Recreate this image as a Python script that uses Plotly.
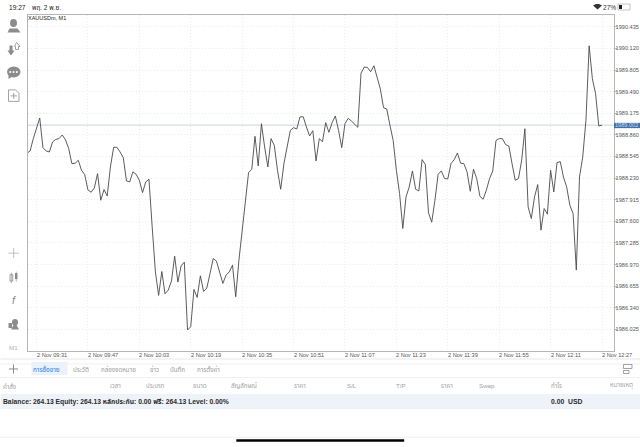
import pandas as pd
import plotly.graph_objects as go

# one close per minute
times = pd.date_range('2023-11-02 09:28', periods=180, freq='min')
closes = [
    1988.591, 1988.625, 1988.805, 1988.950, 1989.106, 1988.674, 1988.625, 1988.611, 1988.756, 1988.795,
    1988.805, 1988.858, 1988.790, 1988.664, 1988.441, 1988.446, 1988.490, 1988.344, 1988.281, 1988.058,
    1988.024, 1988.087, 1988.295, 1987.907, 1988.063, 1987.970, 1988.392, 1988.679, 1988.679, 1988.611,
    1988.528, 1988.189, 1988.174, 1988.320, 1988.286, 1988.198, 1988.019, 1988.174, 1988.213, 1987.519,
    1986.864, 1986.520, 1986.869, 1986.544, 1986.598, 1986.729, 1987.092, 1986.714, 1986.952, 1987.005,
    1986.016, 1986.064, 1986.607, 1986.491, 1986.806, 1986.578, 1986.627, 1986.840, 1987.058, 1987.020,
    1986.840, 1986.695, 1986.816, 1986.864, 1986.961, 1986.501, 1987.034, 1987.471, 1987.956, 1988.310,
    1988.359, 1988.839, 1988.407, 1989.023, 1988.684, 1988.392, 1988.805, 1988.708, 1988.344, 1988.067,
    1988.441, 1988.684, 1988.926, 1988.965, 1988.946, 1989.120, 1989.125, 1988.975, 1988.844, 1988.921,
    1988.480, 1988.805, 1988.761, 1989.038, 1988.897, 1989.038, 1989.135, 1988.926, 1988.674, 1989.023,
    1989.101, 1989.062, 1989.013, 1988.970, 1989.760, 1989.848, 1989.843, 1989.780, 1989.867, 1989.712,
    1989.532, 1989.256, 1989.237, 1988.999, 1988.781, 1988.344, 1988.004, 1987.495, 1987.956, 1988.101,
    1988.334, 1988.067, 1988.043, 1988.499, 1988.431, 1987.723, 1987.587, 1987.907, 1988.286, 1988.334,
    1988.223, 1988.218, 1988.441, 1988.499, 1988.596, 1988.446, 1988.441, 1988.320, 1988.038, 1988.359,
    1988.223, 1987.966, 1987.922, 1988.053, 1988.223, 1988.334, 1988.776, 1988.805, 1988.805, 1988.718,
    1988.698, 1988.441, 1988.198, 1988.223, 1988.490, 1988.950, 1987.810, 1987.641, 1987.956, 1988.135,
    1987.471, 1987.786, 1987.704, 1988.344, 1988.029, 1988.456, 1988.470, 1988.247, 1988.101, 1987.835,
    1987.713, 1986.889, 1988.247, 1988.538, 1989.072, 1990.158, 1989.678, 1989.460, 1988.989, 1989.002,
]
last_price = 1989.002
y_ticks = [1986.025, 1986.340, 1986.655, 1986.970, 1987.285, 1987.600, 1987.915, 1988.230,
           1988.545, 1988.860, 1989.175, 1989.490, 1989.805, 1990.120, 1990.435]
x_tick_times = ['09:31', '09:47', '10:03', '10:19', '10:35', '10:51', '11:07', '11:23', '11:39', '11:55', '12:11', '12:27']
tabs = [('การซื้อขาย', 33), ('ประวัติ', 73), ('กล่องจดหมาย', 101), ('ข่าว', 150), ('บันทึก', 170), ('การตั้งค่า', 197)]
columns = [('คำสั่ง', 3), ('เวลา', 110), ('ประเภท', 146), ('ขนาด', 193), ('สัญลักษณ์', 231), ('ราคา', 294),
           ('S/L', 347), ('T/P', 396), ('ราคา', 441), ('Swap', 479), ('กำไร', 551), ('หมายเหตุ', 610)]

LEFT, RIGHT, TOP, BOTTOM = 27.5, 614, 14.5, 351
FONT = 'Liberation Sans, Noto Sans, Noto Sans Thai, DejaVu Sans, sans-serif'
ICON = '#8c8c8c'
ICON2 = '#b0b0b0'


# pixel position on the page -> paper coordinates
def px(x):
    return (x - LEFT) / (RIGHT - LEFT)


def py(y):
    return (BOTTOM - y) / (BOTTOM - TOP)


fig = go.Figure()
fig.add_trace(go.Scatter(x=times, y=closes, mode='lines', line=dict(color='#4a4a4a', width=0.9), hoverinfo='skip'))

shapes = []
notes = []


def label(text, x, y, size=5.6, color='#444444', anchor='left'):
    notes.append(dict(text=text, x=px(x), y=py(y), xref='paper', yref='paper', showarrow=False,
                      xanchor=anchor, yanchor='middle', xshift=-1.5 if anchor == 'left' else 0, borderpad=0,
                      font=dict(family=FONT, size=size, color=color)))


def rect(x0, y0, x1, y1, fill=None, line=None, width=1):
    shapes.append(dict(type='rect', xref='paper', yref='paper', x0=px(x0), x1=px(x1), y0=py(y0), y1=py(y1),
                       fillcolor=fill or 'rgba(0,0,0,0)', line=dict(color=line or 'rgba(0,0,0,0)', width=width if line else 0)))


def circle(x0, y0, x1, y1, fill=None, line=None, width=1):
    shapes.append(dict(type='circle', xref='paper', yref='paper', x0=px(x0), x1=px(x1), y0=py(y0), y1=py(y1),
                       fillcolor=fill or 'rgba(0,0,0,0)', line=dict(color=line or 'rgba(0,0,0,0)', width=width if line else 0)))


def seg(x0, y0, x1, y1, color, width=1):
    shapes.append(dict(type='line', xref='paper', yref='paper', x0=px(x0), x1=px(x1), y0=py(y0), y1=py(y1),
                       line=dict(color=color, width=width)))


def poly(points, fill=None, line=None, width=1):
    path = 'M' + ' L'.join(f'{px(a):.5f},{py(b):.5f}' for a, b in points) + ' Z'
    shapes.append(dict(type='path', xref='paper', yref='paper', path=path, fillcolor=fill or 'rgba(0,0,0,0)',
                       line=dict(color=line or 'rgba(0,0,0,0)', width=width if line else 0)))


# last price line and its tag
shapes.append(dict(type='line', xref='paper', yref='y', x0=0, x1=1, y0=last_price, y1=last_price,
                   line=dict(color='#c9d3df', width=1), layer='below'))
rect(614, 122.5, 640, 127.8, fill='#3f70a8')
label(f'{last_price:.3f}', 616, 125.1, size=5.6, color='#c9d8ea')

# x tick labels start at their gridline
for t in x_tick_times:
    notes.append(dict(text=f'2 Nov {t}', x=f'2023-11-02 {t}', y=py(354.6), xref='x', yref='paper', showarrow=False,
                      xanchor='left', yanchor='middle', xshift=-1, borderpad=0,
                      font=dict(family=FONT, size=5.6, color='#555555')))

label('XAUUSDm, M1', 28.3, 18, size=5.5, color='#222222')

# status bar
label('19:27', 9, 6.6, size=6.6, color='#222222')
label('พฤ. 2 พ.ย.', 32, 6.6, size=6.4, color='#222222')
label('27%', 603, 6.6, size=6.6, color='#333333')
poly([(593, 5), (596, 3.5), (599, 3.5), (602, 5), (597.5, 9)], fill='#333333')
rect(618, 3.5, 630, 9.5, line='#aaaaaa', width=0.7)
rect(619, 4.5, 622, 8.5, fill='#222222')

# bands and separators under the chart
rect(0, 358, 640, 360, fill='#f3f3f3')
seg(0, 364, 640, 364, '#f0f0f0')
seg(0, 377.5, 640, 377.5, '#f0f0f0')
rect(0, 394, 640, 409, fill='#eef2f9')
seg(0, 437.5, 640, 437.5, '#f1f1f1')
rect(236, 439.5, 404, 442, fill='#000000')

# tabs
rect(31, 362, 67, 375, fill='#eaf2fb')
for i, (name, x) in enumerate(tabs):
    if i == 0:
        label(name, x, 369.3, size=6.4, color='#2b7de0')
    else:
        label(name, x, 369.3, size=6.2, color='#9a9a9a')
seg(8.5, 369, 17.5, 369, '#8a8a8a', 1)
seg(13, 364.5, 13, 373.5, '#8a8a8a', 1)
rect(623.5, 364.5, 632, 368.5, line='#8a8a8a', width=0.8)
rect(623.5, 370.5, 629, 373.5, line='#8a8a8a', width=0.8)

# table header and balance row
for name, x in columns:
    label(name, x, 386, size=6.2, color='#a2a2a2')
label('<b>Balance: 264.13 Equity: 264.13 หลักประกัน: 0.00 ฟรี: 264.13 Level: 0.00%</b>', 2.5, 401.6, size=6.75, color='#2c2c2c')
label('<b>0.00  USD</b>', 551, 401.6, size=6.8, color='#2c2c2c')

# toolbar icons, top group
circle(9.5, 18.5, 16.5, 26.5, fill=ICON)
poly([(7, 32), (9, 28), (17, 28), (20, 32)], fill=ICON)
poly([(9, 45), (12, 45), (12, 50), (14, 50), (10.5, 55), (7, 50), (9, 50)], fill=ICON)
poly([(14, 46), (16, 42), (19.5, 46), (18, 46), (18, 49), (15, 49), (15, 46)], fill='#ffffff', line=ICON, width=0.8)
circle(6.5, 66, 20, 77, fill=ICON)
poly([(8, 74), (12, 76), (8, 78.5)], fill=ICON)
for dot in (9.7, 13, 16.3):
    circle(dot - 1, 70.5, dot + 1, 72.5, fill='#ffffff')
poly([(8, 89.5), (15, 89.5), (18.5, 93), (18.5, 101), (8, 101)], fill='#ffffff', line=ICON, width=0.8)
seg(10, 95.5, 16.5, 95.5, ICON, 0.8)
seg(13.2, 92.5, 13.2, 98.5, ICON, 0.8)

# toolbar icons, bottom group
seg(8, 253, 18.5, 253, ICON2, 0.8)
seg(13.2, 248, 13.2, 258, ICON2, 0.8)
rect(9.5, 274.5, 12.2, 281, line=ICON, width=0.8)
seg(10.9, 272.5, 10.9, 283, ICON, 0.6)
rect(14.5, 273, 17, 279, fill=ICON)
seg(15.8, 271.5, 15.8, 281.5, ICON, 0.6)
label('<i>f</i>', 13, 300, size=11, color=ICON, anchor='center')
circle(11.5, 319, 17.5, 325.5, fill=ICON)
poly([(10.5, 329.5), (13, 325), (16, 325), (18.5, 329.5)], fill=ICON)
rect(8, 323, 11.5, 328, fill=ICON)
label('M1', 13, 347.3, size=6.2, color=ICON2, anchor='center')

fig.update_layout(
    width=640,
    height=447,
    autosize=False,
    # labels outside the plot must not push the margins
    margin=dict(l=LEFT, r=640 - RIGHT, t=TOP, b=447 - BOTTOM, pad=0, autoexpand=False),
    paper_bgcolor='#ffffff',
    plot_bgcolor='#ffffff',
    showlegend=False,
    shapes=shapes,
    annotations=notes,
    xaxis=dict(
        type='date',
        range=['2023-11-02 09:28:21', '2023-11-02 12:30:44'],
        tick0='2023-11-02 09:31',
        dtick=16 * 60000,
        showticklabels=False,
        ticks='',
        showgrid=True,
        gridcolor='#ececec',
        griddash='1px,2px',
        gridwidth=0.8,
        showline=True,
        mirror=True,
        linecolor='#b6b6b6',
        linewidth=1,
        zeroline=False,
    ),
    yaxis=dict(
        side='right',
        range=[1985.710, 1990.607],
        tickvals=y_ticks,
        tickformat='.3f',
        ticks='outside',
        ticklen=1.5,
        ticklabelstandoff=-2,
        tickcolor='#b6b6b6',
        tickfont=dict(family=FONT, size=5.6, color='#555555'),
        showgrid=True,
        gridcolor='#ececec',
        griddash='1px,2px',
        gridwidth=0.8,
        showline=True,
        mirror=True,
        linecolor='#b6b6b6',
        linewidth=1,
        zeroline=False,
    ),
)

# page margin off, the figure fills the window
fig.write_html('out.html', config=dict(displayModeBar=False),
               post_script="document.body.style.margin='0';document.body.style.overflow='hidden';")
